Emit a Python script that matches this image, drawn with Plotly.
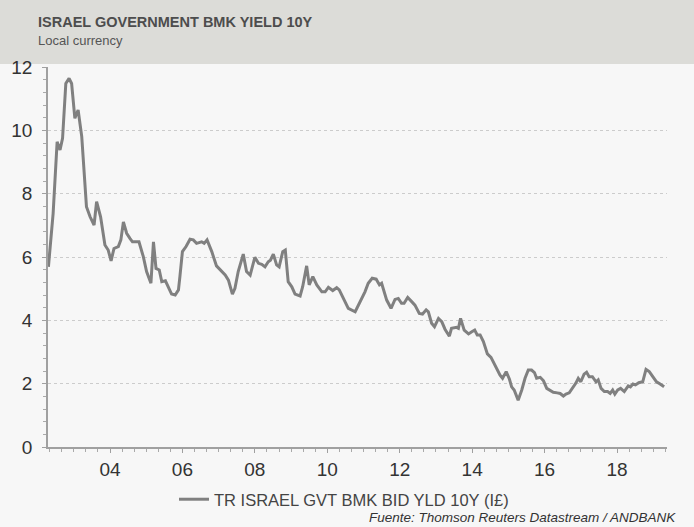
import plotly.graph_objects as go

years = [2002.30, 2002.43, 2002.54, 2002.62, 2002.69, 2002.78, 2002.87, 2002.94, 2003.03, 2003.12,
         2003.22, 2003.29, 2003.35, 2003.45, 2003.56, 2003.63, 2003.74, 2003.86, 2003.95, 2004.03,
         2004.11, 2004.23, 2004.30, 2004.37, 2004.46, 2004.55, 2004.62, 2004.80, 2004.92, 2005.01,
         2005.13, 2005.20, 2005.27, 2005.36, 2005.43, 2005.53, 2005.61, 2005.70, 2005.80, 2005.89,
         2005.93, 2006.00, 2006.10, 2006.21, 2006.30, 2006.39, 2006.53, 2006.60, 2006.68, 2006.81,
         2006.94, 2007.08, 2007.18, 2007.27, 2007.38, 2007.45, 2007.54, 2007.68, 2007.77, 2007.87,
         2008.00, 2008.10, 2008.19, 2008.28, 2008.37, 2008.43, 2008.51, 2008.60, 2008.67, 2008.77,
         2008.84, 2008.92, 2009.02, 2009.11, 2009.25, 2009.32, 2009.43, 2009.50, 2009.60, 2009.71,
         2009.85, 2009.94, 2010.03, 2010.15, 2010.26, 2010.33, 2010.44, 2010.58, 2010.77, 2010.86,
         2010.95, 2011.04, 2011.13, 2011.24, 2011.35, 2011.44, 2011.50, 2011.64, 2011.76, 2011.87,
         2011.96, 2012.05, 2012.12, 2012.22, 2012.33, 2012.42, 2012.54, 2012.63, 2012.73, 2012.79,
         2012.88, 2012.96, 2013.07, 2013.16, 2013.25, 2013.37, 2013.43, 2013.57, 2013.62, 2013.68,
         2013.78, 2013.90, 2013.99, 2014.07, 2014.14, 2014.22, 2014.31, 2014.42, 2014.52, 2014.63,
         2014.77, 2014.84, 2014.94, 2015.03, 2015.09, 2015.16, 2015.27, 2015.37, 2015.46, 2015.55,
         2015.64, 2015.72, 2015.78, 2015.88, 2015.97, 2016.06, 2016.15, 2016.24, 2016.35, 2016.43,
         2016.52, 2016.59, 2016.68, 2016.77, 2016.86, 2016.93, 2017.00, 2017.09, 2017.16, 2017.23,
         2017.32, 2017.42, 2017.48, 2017.56, 2017.65, 2017.74, 2017.81, 2017.88, 2017.94, 2018.02,
         2018.10, 2018.20, 2018.31, 2018.37, 2018.44, 2018.51, 2018.60, 2018.71, 2018.80, 2018.89,
         2018.98, 2019.09, 2019.19, 2019.30]

yield_10y = [5.69, 7.38, 9.64, 9.38, 9.75, 11.48, 11.64, 11.48, 10.38, 10.64,
             9.80, 8.75, 7.59, 7.27, 7.01, 7.75, 7.27, 6.38, 6.22, 5.88,
             6.27, 6.33, 6.54, 7.11, 6.75, 6.59, 6.48, 6.48, 6.01, 5.54,
             5.17, 6.48, 5.64, 5.59, 5.22, 5.25, 5.06, 4.83, 4.80, 4.96,
             5.38, 6.17, 6.33, 6.56, 6.54, 6.43, 6.48, 6.43, 6.54, 6.17,
             5.72, 5.54, 5.43, 5.27, 4.83, 5.01, 5.54, 6.09, 5.54, 5.43,
             5.99, 5.80, 5.77, 5.69, 5.85, 5.90, 6.09, 5.75, 5.69, 6.17,
             6.22, 5.22, 5.06, 4.83, 4.77, 5.06, 5.72, 5.12, 5.38, 5.12,
             4.90, 4.90, 5.04, 4.94, 5.03, 4.96, 4.69, 4.38, 4.27, 4.48,
             4.69, 4.90, 5.17, 5.33, 5.30, 5.12, 5.17, 4.64, 4.38, 4.66,
             4.69, 4.54, 4.54, 4.72, 4.59, 4.48, 4.22, 4.20, 4.33, 4.27,
             3.91, 3.80, 4.06, 3.96, 3.72, 3.50, 3.75, 3.78, 3.75, 4.06,
             3.69, 3.57, 3.64, 3.69, 3.54, 3.54, 3.33, 2.94, 2.83, 2.59,
             2.27, 2.17, 2.38, 2.14, 1.90, 1.80, 1.48, 1.80, 2.17, 2.43,
             2.43, 2.35, 2.17, 2.20, 2.09, 1.85, 1.80, 1.73, 1.71, 1.69,
             1.61, 1.67, 1.71, 1.85, 2.01, 2.17, 2.06, 2.30, 2.36, 2.22,
             2.22, 2.06, 2.12, 1.85, 1.75, 1.75, 1.69, 1.80, 1.67, 1.80,
             1.85, 1.75, 1.93, 1.90, 1.99, 1.96, 2.03, 2.06, 2.45, 2.38,
             2.22, 2.06, 1.99, 1.90]

tick_years = [2004, 2006, 2008, 2010, 2012, 2014, 2016, 2018]
tick_labels = ["04", "06", "08", "10", "12", "14", "16", "18"]
y_ticks = [0, 2, 4, 6, 8, 10, 12]

series_name = "TR ISRAEL GVT BMK BID YLD 10Y (I£)"
title_text = "ISRAEL GOVERNMENT BMK YIELD 10Y"
subtitle_text = "Local currency"
source_text = "Fuente: Thomson Reuters Datastream / ANDBANK"

FONT = "Liberation Sans, Arial, sans-serif"
PH = 380.0  # plot height in px
PW = 619.0  # plot width in px

fig = go.Figure()
fig.add_trace(go.Scatter(
    x=years, y=yield_10y, mode="lines", name=series_name,
    line=dict(color="#808080", width=3),
))

fig.update_layout(
    width=694, height=527,
    paper_bgcolor="#f7f7f7", plot_bgcolor="#f7f7f7",
    margin=dict(l=48, r=27, t=67, b=80, autoexpand=False),
    font=dict(family=FONT, color="#333333"),
    showlegend=True,
    legend=dict(orientation="h", x=(174 - 48) / PW, xanchor="left", y=-35 / PH, yanchor="top",
                font=dict(size=16.5, color="#444444"), bgcolor="rgba(0,0,0,0)"),
    shapes=[dict(type="rect", xref="paper", yref="paper", x0=-0.1, x1=1.1,
                 y0=1.0 + 3 / PH, y1=1.0 + 67 / PH, fillcolor="#dcdcd8",
                 line=dict(width=0), layer="below")],
    annotations=[
        dict(text="<b>" + title_text + "</b>", xref="paper", yref="paper",
             x=-12 / PW, y=1.0 + 45 / PH, xanchor="left", yanchor="middle", showarrow=False,
             font=dict(size=14.5, color="#4d4d4d", family=FONT)),
        dict(text=subtitle_text, xref="paper", yref="paper",
             x=-12 / PW, y=1.0 + 27 / PH, xanchor="left", yanchor="middle", showarrow=False,
             font=dict(size=13, color="#555555", family=FONT)),
        dict(text="<i>" + source_text + "</i>", xref="paper", yref="paper",
             x=1.0 + 11 / PW, y=-70 / PH, xanchor="right", yanchor="middle", showarrow=False,
             font=dict(size=13.5, color="#333333", family=FONT)),
    ],
)

fig.update_xaxes(
    range=[2002.288, 2019.38], tickmode="array", tickvals=tick_years, ticktext=tick_labels,
    showgrid=False, zeroline=False, showline=True, linecolor="#a0a0a0", linewidth=1.5,
    ticks="outside", ticklen=4, tickcolor="#a0a0a0",
    tickfont=dict(size=19, color="#333333"),
    minor=dict(dtick=1 / 3, tick0=2004, ticks="outside", ticklen=3, tickcolor="#aaaaaa"),
)
fig.update_yaxes(
    range=[0, 12], tickmode="array", tickvals=y_ticks,
    showgrid=True, gridcolor="#cccccc", griddash="dot", gridwidth=1,
    zeroline=False, showline=True, linecolor="#a0a0a0", linewidth=1.5,
    ticks="outside", ticklen=4, tickcolor="#a0a0a0", ticklabelstandoff=6,
    tickfont=dict(size=19, color="#333333"),
    minor=dict(dtick=0.4, ticks="outside", ticklen=3, tickcolor="#aaaaaa", showgrid=False),
)

fig.write_html("out.html", config={"displayModeBar": False},
               post_script="document.body.style.margin='0';document.body.style.background='#f7f7f7';")
